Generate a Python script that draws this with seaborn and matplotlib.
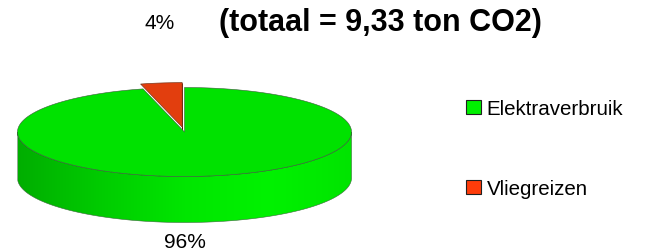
import numpy as np
import matplotlib
matplotlib.use('Agg')
import matplotlib.pyplot as plt
import seaborn as sns
from matplotlib.patches import Polygon, Patch
from matplotlib.colors import LinearSegmentedColormap

sns.set_style('white')
plt.rcParams['font.family'] = ['Liberation Sans', 'DejaVu Sans']
plt.rcParams['text.color'] = 'black'

# data
labels = ['Elektraverbruik', 'Vliegreizen']
values = [96, 4]
top_colors = ['#00E200', '#E23E0E']
side_colors = ['#00C800', '#A82A08']
legend_colors = ['#00F000', '#FF3C0A']
title = '(totaal = 9,33 ton CO2)'
explode = [0.0, 0.11]

W, H = 654, 251
cx, cy = 184.5, 133.0   # pie center (px)
rx, ry = 167.0, 44.5    # ellipse radii (px)
depth = 46.0 / ry       # depth of the cake in y-units

fig = plt.figure(figsize=(W / 100, H / 100), dpi=100)
ax = fig.add_axes([0, 0, 1, 1])
ax.set_xlim(-cx / rx, (W - cx) / rx)
ax.set_ylim((cy - H) / ry, cy / ry)
ax.axis('off')

fracs = np.array(values, dtype=float) / sum(values)
starts = 90 - 360 * np.concatenate([[0], np.cumsum(fracs)[:-1]])
ends = starts - 360 * fracs


def wedge_pts(t1, t2, dx=0.0, dy=0.0, n=200):
    t = np.radians(np.linspace(t1, t2, n))
    xs = np.concatenate([[dx], np.cos(t) + dx, [dx]])
    ys = np.concatenate([[dy], np.sin(t) + dy, [dy]])
    return np.column_stack([xs, ys])


# small exploded slice(s): cut face + top
for i in range(len(values)):
    if explode[i] == 0:
        continue
    mid = np.radians((starts[i] + ends[i]) / 2)
    dx, dy = explode[i] * np.cos(mid), explode[i] * np.sin(mid)
    a = np.radians(ends[i])
    rim = (np.cos(a) + dx, np.sin(a) + dy)
    face = [(dx, dy), rim, (rim[0], rim[1] - depth), (dx, dy - depth)]
    ax.add_patch(Polygon(face, closed=True, facecolor=side_colors[i],
                         edgecolor='#5a1a05', linewidth=0.4, zorder=1))
    ax.add_patch(Polygon(wedge_pts(starts[i], ends[i], dx, dy), closed=True,
                         facecolor=top_colors[i], edgecolor='#7a3a20',
                         linewidth=0.5, zorder=2))

# front wall of the big slice with a shading gradient
t = np.radians(np.linspace(180, 360, 300))
wall = np.concatenate([np.column_stack([np.cos(t), np.sin(t)]),
                       np.column_stack([np.cos(t[::-1]), np.sin(t[::-1]) - depth])])
wall_patch = Polygon(wall, closed=True, facecolor='none', edgecolor='#3a6a3a',
                     linewidth=0.4, zorder=4)
ax.add_patch(wall_patch)
cmap = LinearSegmentedColormap.from_list(
    'wall', ['#00AE00', '#00CC00', '#00E600', '#00F200', '#00E400'])
grad = np.linspace(0, 1, 256).reshape(1, -1)
img = ax.imshow(grad, cmap=cmap, aspect='auto', extent=[-1, 1, -1 - depth, 0],
                zorder=3, interpolation='bilinear')
img.set_clip_path(wall_patch)

# top of the big slice(s)
for i in range(len(values)):
    if explode[i] != 0:
        continue
    ax.add_patch(Polygon(wedge_pts(starts[i], ends[i]), closed=True,
                         facecolor=top_colors[i], edgecolor='#3a5a3a',
                         linewidth=0.4, zorder=5))

# percentage labels
pct = [f'{round(f * 100):.0f}%' for f in fracs]
ax.text(0.0, (cy - 242) / ry, pct[0], ha='center', va='center', fontsize=15)
ax.text((160 - cx) / rx, (cy - 24) / ry, pct[1], ha='center', va='center', fontsize=15)

fig.text(380 / W, 1 - 23 / H, title, ha='center', va='center',
         fontsize=22, fontweight='bold')

handles = [Patch(facecolor=c, edgecolor='#202020', linewidth=0.8) for c in legend_colors]
fig.legend(handles, labels, loc='upper left', bbox_to_anchor=(456 / W, 1 - 90 / H),
           frameon=False, fontsize=14.8, handlelength=0.7, handleheight=0.7,
           handletextpad=0.3, labelspacing=2.95, borderpad=0)

fig.savefig('out.png', dpi=100)
